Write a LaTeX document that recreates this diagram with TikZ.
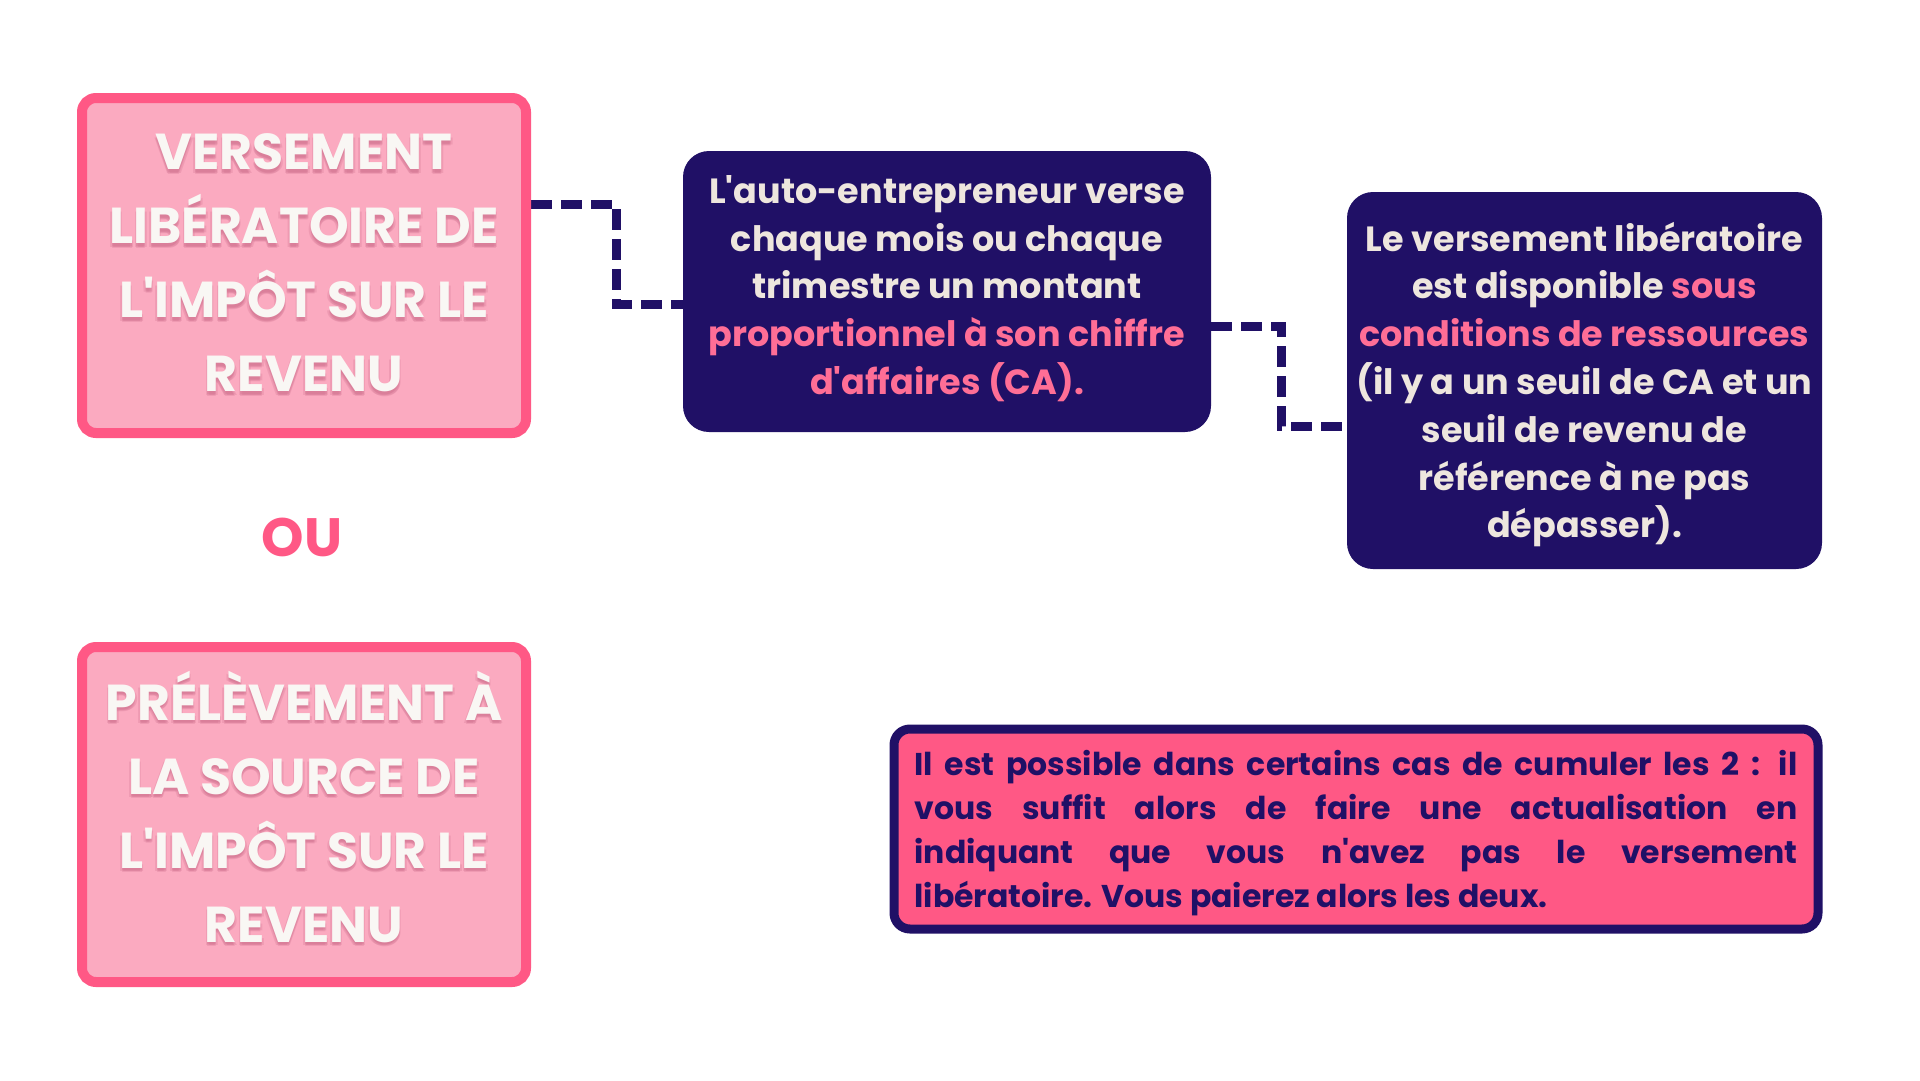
\documentclass[tikz,border=0pt]{standalone}
\usepackage{fontspec}
\setmainfont{Poppins}[Ligatures=TeXOff]
\usetikzlibrary{calc}
\definecolor{navy}{RGB}{32,16,102}
\definecolor{pinkfill}{RGB}{251,170,192}
\definecolor{pinkline}{RGB}{255,88,133}
\definecolor{cream}{RGB}{238,230,222}
\definecolor{hlpink}{RGB}{255,110,150}
\definecolor{headwhite}{RGB}{249,247,244}
\definecolor{shadowpink}{RGB}{205,110,140}
\tikzset{
  headbox/.style={draw=pinkline, fill=pinkfill, line width=10pt, rounded corners=14pt,
    minimum width=444pt, minimum height=335pt, inner sep=0pt},
  headtext/.style={align=center, text=headwhite, inner sep=0pt,
    font=\fontsize{50.5}{74}\selectfont\bfseries},
  headshadow/.style={headtext, text=shadowpink, opacity=0.25},
  navybox/.style={fill=navy, rounded corners=26pt, inner sep=0pt, align=center,
    text=cream, font=\fontsize{35}{47.8}\selectfont\bfseries},
  notebox/.style={draw=navy, fill=pinkline, line width=9pt, rounded corners=16pt,
    minimum width=924pt, minimum height=200pt, inner sep=0pt},
  notetext/.style={inner sep=0pt, align=left,
    text=navy, font=\fontsize{31.5}{44}\selectfont\bfseries},
  link/.style={draw=navy, line width=9pt, dash pattern=on 21pt off 9pt},
}
\newcommand{\headA}{VERSEMENT\\LIBÉRATOIRE DE\\L'IMPÔT SUR LE\\REVENU}
\newcommand{\headB}{PRÉLÈVEMENT À\\LA SOURCE DE\\L'IMPÔT SUR LE\\REVENU}
\newcommand{\jline}[1]{\makebox[883pt][s]{#1}}
\begin{document}
\begin{tikzpicture}[x=1pt,y=-1pt]
\useasboundingbox (0,0) rectangle (1920,1080);
\fill[white] (0,0) rectangle (1920,1080);

% boxes
\node[navybox, minimum width=528pt, minimum height=281pt] (b2) at (947,291.5) {};
\node[navybox, minimum width=475pt, minimum height=377pt] (b4) at (1584.5,380.5) {};

% connectors (behind boxes)
\coordinate (k1) at (616,0);
\coordinate (k2) at (1281,0);
\coordinate (a1) at (531,204);
\coordinate (a2) at ([yshift=-12.5pt]b2.west);
\coordinate (c1) at ([yshift=-34.5pt]b2.east);
\coordinate (c2) at ([yshift=-45.5pt]b4.west);
\draw[link] (a1) -- (a1 -| k1) -- (a2 -| k1) -- (a2);
\draw[link] (c1) -- (c1 -| k2) -- (c2 -| k2) -- (c2);

\node[headbox] (b1) at (304,265.5) {};
\node[headbox] (b3) at (304,814.5) {};

% heading texts with soft shadow
\coordinate (h1) at ([yshift=2.5pt]b1.center);
\coordinate (h3) at ([yshift=7.5pt]b3.center);
\foreach \dx/\dy [count=\i] in {0/2.5, 1.5/3.5, -1.5/3.5, 0/4.5}{
  \node[headshadow] (s1\i) at ($(h1)+(\dx,\dy)$) {\headA};
  \node[headshadow] (s3\i) at ($(h3)+(\dx,\dy)$) {\headB};
}
\node[headtext] (t1) at (h1) {\headA};
\node[headtext] (t3) at (h3) {\headB};

\node[navybox, fill=none] (t2) at ([yshift=3pt]b2.center) {L'auto-entrepreneur verse\\chaque mois ou chaque\\trimestre un montant\\\textcolor{hlpink}{proportionnel à son chiffre}\\\textcolor{hlpink}{d'affaires (CA).}};
\node[navybox, fill=none] (t4) at ([yshift=-4pt]b4.center) {Le versement libératoire\\est disponible \textcolor{hlpink}{sous}\\\textcolor{hlpink}{conditions de ressources}\\(il y a un seuil de CA et un\\seuil de revenu de\\référence à ne pas\\dépasser).};

\node[text=pinkline, font=\fontsize{54}{60}\selectfont\bfseries, inner sep=0pt] (ou) at (302,537) {OU};

\node[notebox] (b5) at (1356,829) {};
\node[notetext] (t5) at ([yshift=-4pt]b5.center) {\jline{Il est possible dans certains cas de cumuler les 2 : il}\\\jline{vous suffit alors de faire une actualisation en}\\\jline{indiquant que vous n'avez pas le versement}\\libératoire. Vous paierez alors les deux.};
\end{tikzpicture}
\end{document}
